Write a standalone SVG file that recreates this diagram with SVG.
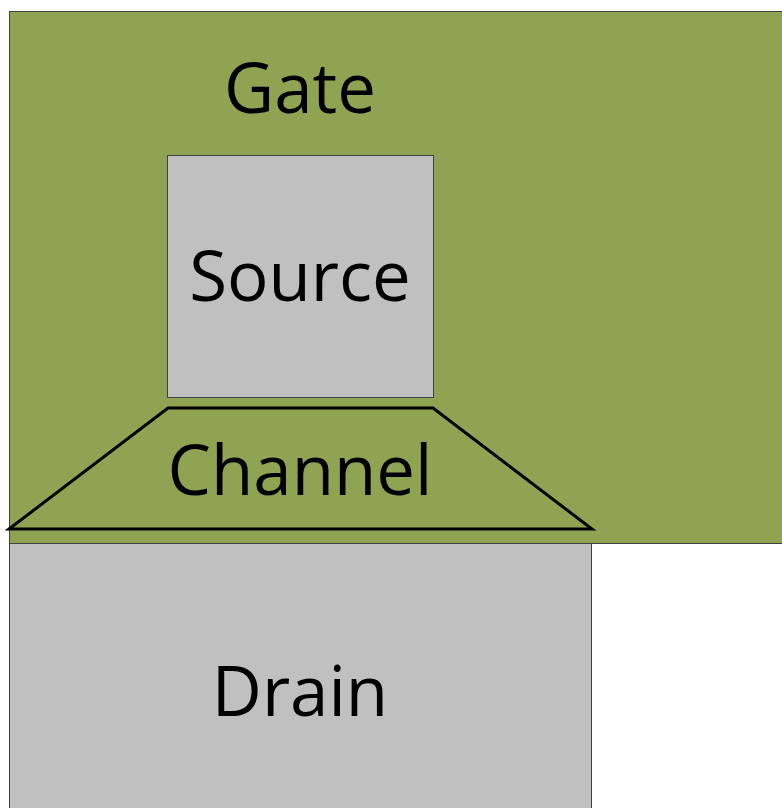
<svg xmlns="http://www.w3.org/2000/svg" width="782" height="808" viewBox="0 0 782 808">
  <style>
    .lbl { font-family: "Open Sans", "Liberation Sans", sans-serif; font-size: 69px; fill: #000; text-anchor: middle; }
    .gate { fill: #8FA352; stroke: #404040; stroke-width: 1; }
    .metal { fill: #C0C0C0; stroke: #404040; stroke-width: 1; }
    .chan { fill: none; stroke: #000; stroke-width: 3; stroke-linejoin: miter; }
  </style>
  <rect width="782" height="808" fill="#FFFFFF"/>
  <g id="gate">
    <rect class="gate" x="9.5" y="11.5" width="780" height="532"/>
    <text class="lbl" x="300" y="113">Gate</text>
  </g>
  <g id="source">
    <rect class="metal" x="167.5" y="155.5" width="266" height="242"/>
    <text class="lbl" x="300" y="301">Source</text>
  </g>
  <g id="channel">
    <polygon class="chan" points="168,408 433,408 592,529 9,529"/>
    <text class="lbl" x="300" y="495">Channel</text>
  </g>
  <g id="drain">
    <rect class="metal" x="9.5" y="543.5" width="582" height="270"/>
    <text class="lbl" x="300" y="716">Drain</text>
  </g>
  <g id="connectors"/>
</svg>
